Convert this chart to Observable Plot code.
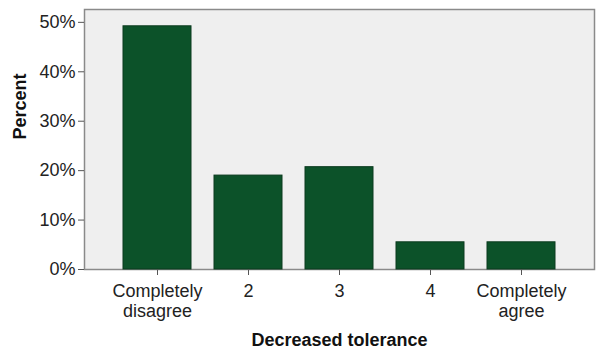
<!DOCTYPE html>
<html>
<head>
<meta charset="utf-8">
<script src="https://cdn.jsdelivr.net/npm/d3@7"></script>
<script src="https://cdn.jsdelivr.net/npm/@observablehq/plot@0.6"></script>
<style>
  body { margin: 0; background: #fff; }
  #chart svg { display: block; }
</style>
</head>
<body>
<div id="chart"></div>
<script>
const categories = ["Completely\ndisagree", "2", "3", "4", "Completely\nagree"];
const percents = [49.2, 19.0, 20.7, 5.5, 5.5];
const yTicks = [0, 10, 20, 30, 40, 50];
const xTitle = "Decreased tolerance";
const yTitle = "Percent";

const data = categories.map((c, i) => ({category: c, percent: percents[i]}));

const chart = Plot.plot({
  width: 596,
  height: 351,
  marginLeft: 84,
  marginRight: 2,
  marginTop: 9,
  marginBottom: 82,
  style: {fontFamily: "Liberation Sans, Arial, sans-serif", fontSize: "18px", color: "#222", background: "#fff"},
  x: {domain: categories, paddingInner: 0.25, paddingOuter: 0.4, label: null},
  y: {domain: [0, 52.6], label: null},
  marks: [
    Plot.frame({fill: "#efefef", stroke: "#8a8a8a", strokeWidth: 1.5}),
    Plot.barY(data, {x: "category", y: "percent", fill: "#0c5229", stroke: "#0a3a1e", strokeWidth: 1}),
    Plot.axisY({ticks: yTicks, tickFormat: d => d + "%", tickSize: 6, tickPadding: 3, stroke: "#555", label: null}),
    Plot.axisX({tickSize: 6, tickPadding: 7, stroke: "#555", label: null, lineHeight: 1.12}),
    Plot.text([xTitle], {frameAnchor: "bottom", dy: 76, text: d => d, fontWeight: "bold", fontSize: 18, fill: "#111"}),
    Plot.text([yTitle], {frameAnchor: "left", dx: -64, rotate: -90, text: d => d, fontWeight: "bold", fontSize: 18, fill: "#111"})
  ]
});
document.getElementById("chart").append(chart);
</script>
</body>
</html>
